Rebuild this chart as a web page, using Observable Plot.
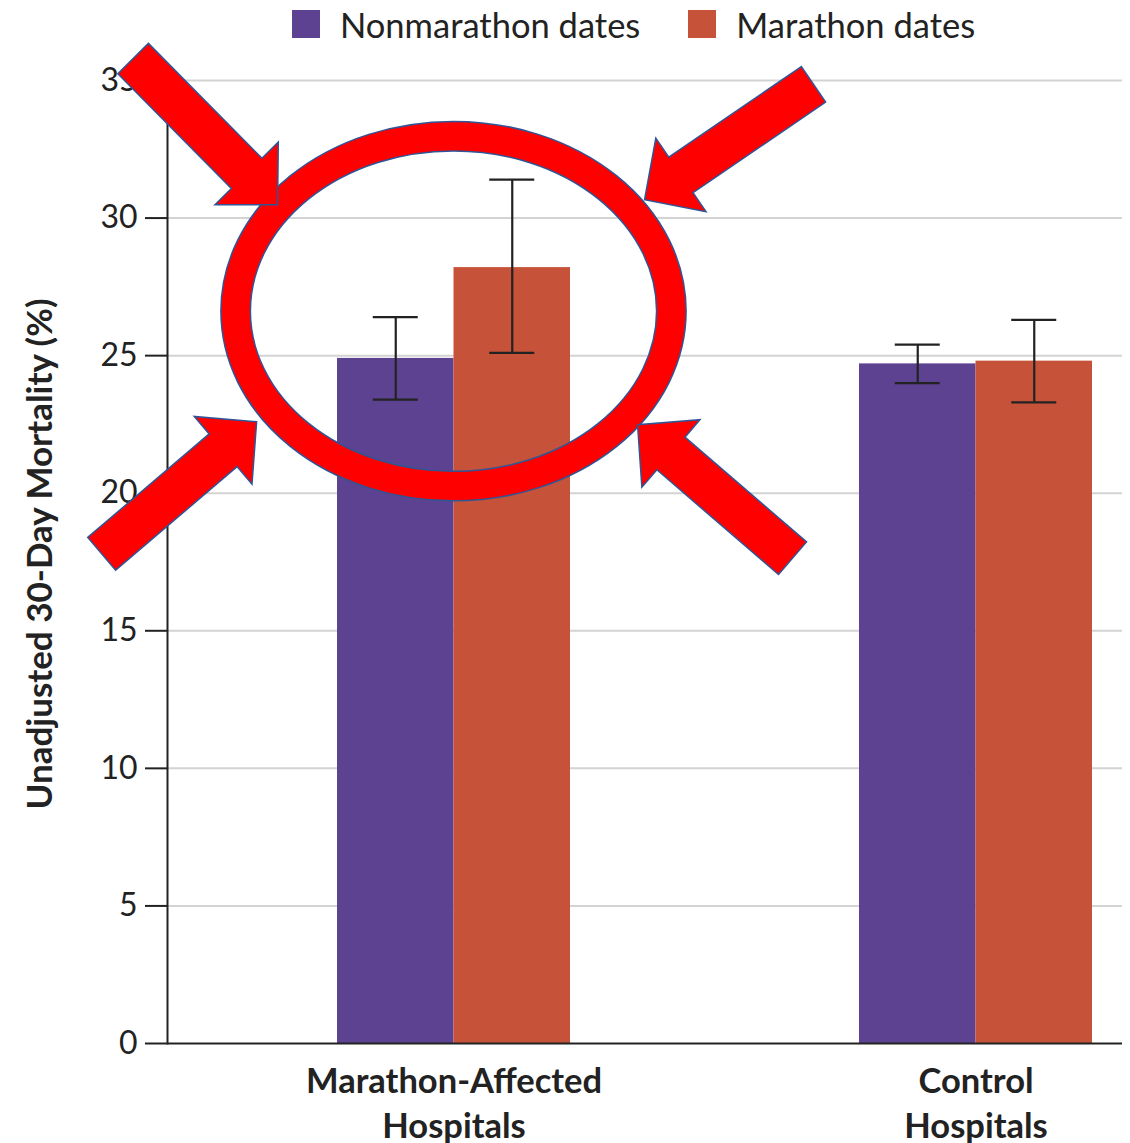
<!DOCTYPE html>
<html>
<head>
<meta charset="utf-8">
<script src="https://cdn.jsdelivr.net/npm/d3@7"></script>
<script src="https://cdn.jsdelivr.net/npm/@observablehq/plot@0.6"></script>
<style>
  body { margin: 0; background: #fff; font-family: Lato, "Open Sans", sans-serif; }
  #legend { height: 48px; display: flex; align-items: center; padding-left: 292px; font-size: 34.5px; color: #222; box-sizing: border-box; }
  #legend .item { display: flex; align-items: center; margin-right: 48px; }
  #legend .sw { width: 28px; height: 28px; display: inline-block; margin-right: 20px; }
</style>
</head>
<body>
<div id="legend"></div>
<div id="chart"></div>
<script>
// ---- data ----
const groups = ["Marathon-Affected Hospitals", "Control Hospitals"];
const groupLabels = ["Marathon-Affected\nHospitals", "Control\nHospitals"];
const series = ["Nonmarathon dates", "Marathon dates"];
const nonmarathon = [24.9, 24.7];
const nonmarathonLo = [23.4, 24.0];
const nonmarathonHi = [26.4, 25.4];
const marathon = [28.2, 24.8];
const marathonLo = [25.1, 23.3];
const marathonHi = [31.4, 26.3];
const yTicks = [0, 5, 10, 15, 20, 25, 30, 35];
const yLabel = "Unadjusted 30-Day Mortality (%)";

// red highlight annotation, anchored on the Marathon-Affected group
// (x: offset from group centre in bar widths, y: in % units)
const highlightGroup = "Marathon-Affected Hospitals";
const ellipseCenter = [0, 26.6];
const ellipseRadii = [1.87, 6.36];
const arrowTails = [[-2.75, 35.78], [3.09, 34.84], [-3.02, 17.78], [2.91, 17.62]];
const arrowTips  = [[-1.51, 30.47], [1.64, 30.65], [-1.69, 22.58], [1.58, 22.47]];

// ---- styles / layout ----
const colors = ["#5c4290", "#c65339"];
const W = 116.5;          // single bar width (px)
const groupStep = 522;    // distance between group centres (px)
const firstCenter = 453;  // first group centre (px)
const capW = 45;

// legend
const legend = d3.select("#legend");
series.forEach((s, i) => {
  const it = legend.append("div").attr("class", "item");
  it.append("span").attr("class", "sw").style("background", colors[i]);
  it.append("span").text(s);
});

const rows = groups.flatMap((g, i) => [
  {group: g, series: series[0], value: nonmarathon[i], lo: nonmarathonLo[i], hi: nonmarathonHi[i]},
  {group: g, series: series[1], value: marathon[i], lo: marathonLo[i], hi: marathonHi[i]}
]);
const rows0 = rows.filter(d => d.series === series[0]);
const rows1 = rows.filter(d => d.series === series[1]);

function highlight(index, scales) {
  const sx = scales.x, sy = scales.y;
  const bw = typeof sx.bandwidth === "function" ? sx.bandwidth() : sx.bandwidth;
  const cx = sx(highlightGroup) + bw / 2;
  const barW = bw / 2;
  const P = ([u, v]) => [cx + u * barW, sy(v)];
  const g = d3.create("svg:g");
  const [ex, ey] = P(ellipseCenter);
  const rx = ellipseRadii[0] * barW, ry = Math.abs(sy(0) - sy(ellipseRadii[1]));
  g.append("ellipse").attr("cx", ex).attr("cy", ey).attr("rx", rx).attr("ry", ry)
    .attr("fill", "none").attr("stroke", "#2f5597").attr("stroke-width", 31);
  g.append("ellipse").attr("cx", ex).attr("cy", ey).attr("rx", rx).attr("ry", ry)
    .attr("fill", "none").attr("stroke", "#ff0000").attr("stroke-width", 28);
  const sw = 43 / 2, hw = 89 / 2, hl = 44;
  arrowTails.forEach((t, i) => {
    const T = P(t), Q = P(arrowTips[i]);
    const L = Math.hypot(Q[0] - T[0], Q[1] - T[1]);
    const u = [(Q[0] - T[0]) / L, (Q[1] - T[1]) / L];
    const n = [-u[1], u[0]];
    const B = [Q[0] - u[0] * hl, Q[1] - u[1] * hl];
    const pt = (p, k) => [p[0] + n[0] * k, p[1] + n[1] * k];
    const pts = [pt(T, sw), pt(B, sw), pt(B, hw), Q, pt(B, -hw), pt(B, -sw), pt(T, -sw)];
    g.append("polygon").attr("points", pts.map(p => p.join(",")).join(" "))
      .attr("fill", "#ff0000").attr("stroke", "#2f5597").attr("stroke-width", 1.5)
      .attr("stroke-linejoin", "miter");
  });
  return g.node();
}

const chart = Plot.plot({
  width: 1130,
  height: 1095,
  marginTop: 32,
  marginBottom: 100,
  marginLeft: 167,
  marginRight: 8,
  style: {fontFamily: "Lato, 'Open Sans', sans-serif", fontSize: "32px", color: "#222", background: "#fff", overflow: "visible"},
  x: {type: "band", domain: groups, range: [firstCenter - W, firstCenter + groupStep + W],
      paddingInner: 1 - 2 * W / groupStep, paddingOuter: 0, axis: null},
  y: {domain: [0, 35], axis: null},
  marks: [
    Plot.ruleY(yTicks.filter(t => t > 0), {stroke: "#d3d3d3", strokeWidth: 2}),
    Plot.barY(rows0, {x: "group", y: "value", fill: colors[0], insetRight: W}),
    Plot.barY(rows1, {x: "group", y: "value", fill: colors[1], insetLeft: W}),
    Plot.ruleX(rows0, {x: "group", y1: "lo", y2: "hi", dx: -W / 2, stroke: "#222", strokeWidth: 2.2}),
    Plot.ruleX(rows1, {x: "group", y1: "lo", y2: "hi", dx: W / 2, stroke: "#222", strokeWidth: 2.2}),
    Plot.tickY(rows0, {x: "group", y: "lo", stroke: "#222", strokeWidth: 2.2, insetLeft: W / 2 - capW / 2, insetRight: 1.5 * W - capW / 2}),
    Plot.tickY(rows0, {x: "group", y: "hi", stroke: "#222", strokeWidth: 2.2, insetLeft: W / 2 - capW / 2, insetRight: 1.5 * W - capW / 2}),
    Plot.tickY(rows1, {x: "group", y: "lo", stroke: "#222", strokeWidth: 2.2, insetLeft: 1.5 * W - capW / 2, insetRight: W / 2 - capW / 2}),
    Plot.tickY(rows1, {x: "group", y: "hi", stroke: "#222", strokeWidth: 2.2, insetLeft: 1.5 * W - capW / 2, insetRight: W / 2 - capW / 2}),
    Plot.ruleY([0], {stroke: "#222", strokeWidth: 2}),
    Plot.frame({anchor: "left", stroke: "#222", strokeWidth: 2}),
    Plot.axisY({ticks: yTicks, tickSize: 22, tickPadding: 8, strokeWidth: 2, stroke: "#222", fill: "#222", fontSize: 32, label: null}),
    Plot.text(groups, {x: d => d, text: (d, i) => groupLabels[i], frameAnchor: "bottom", lineAnchor: "top",
      dy: 18, fontWeight: "bold", fontSize: 34.5, lineHeight: 1.3, fill: "#222"}),
    Plot.text([yLabel], {frameAnchor: "left", textAnchor: "middle", dx: -127, dy: -8, rotate: -90, fontWeight: "bold", fontSize: 35, fill: "#222"}),
    highlight
  ]
});
document.getElementById("chart").appendChild(chart);
</script>
</body>
</html>
